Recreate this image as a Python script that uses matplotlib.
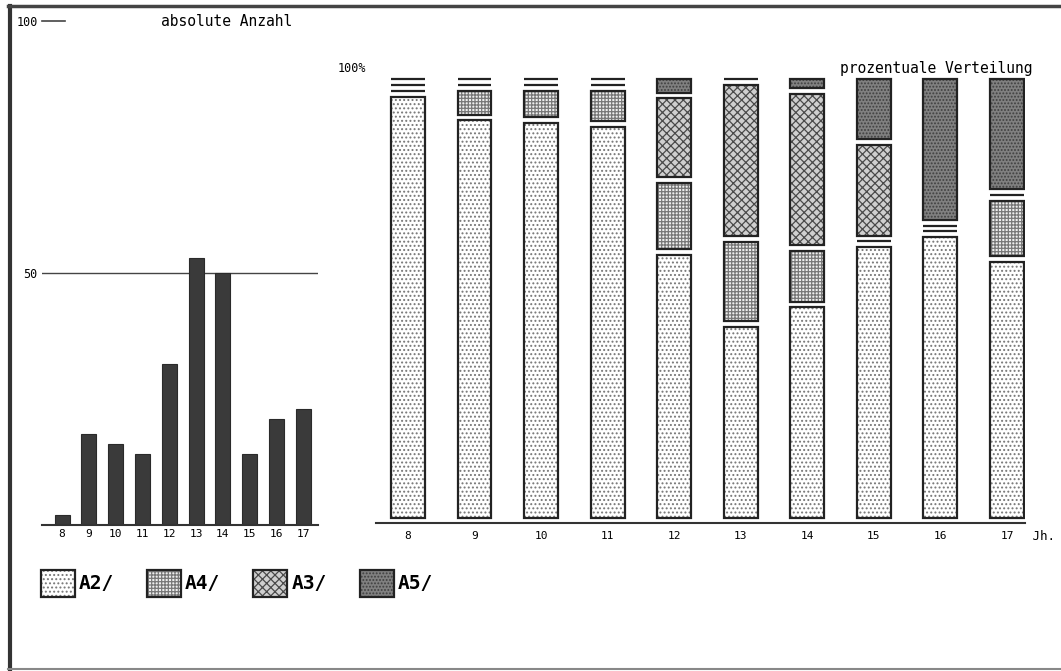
import numpy as np
import matplotlib.pyplot as plt
from matplotlib.lines import Line2D

plt.rcParams['font.family'] = ['DejaVu Sans Mono', 'DejaVu Sans']
plt.rcParams['hatch.linewidth'] = 0.9

# Daten: Anzahl je Jahrhundert und Typ
jahrhundert = ['8', '9', '10', '11', '12', '13', '14', '15', '16', '17']
a2 = [2, 17, 15, 13, 20, 24, 25, 9, 14, 14]
a4 = [0, 1, 1, 1, 5, 10, 6, 0, 0, 3]
a3 = [0, 0, 0, 0, 6, 19, 18, 3, 0, 0]
a5 = [0, 0, 0, 0, 1, 0, 1, 2, 7, 6]
typen = ['A2/', 'A4/', 'A3/', 'A5/']

serien = [np.array(a2), np.array(a4), np.array(a3), np.array(a5)]
gesamt = sum(serien)
x = np.arange(len(jahrhundert))

# Stil je Typ: Flaeche, Schraffur, Schraffurfarbe
stile = [('white', '....', '#777777'),
         ('#eeeeee', '+++++', '#777777'),
         ('#cfcfcf', 'xxxx', '#4a4a4a'),
         ('#808080', '.....', '#3f3f3f')]

fig = plt.figure(figsize=(10.61, 6.71), dpi=100)
W, H = 1061, 671

# --- links: absolute Anzahl ---
ax1 = fig.add_axes([42 / W, 146 / H, 276 / W, 504 / H])
ax1.bar(x, gesamt, width=0.56, color='#3a3a3a', edgecolor='#2a2a2a', linewidth=0.8)
ax1.set_xlim(-0.75, 9.55)
ax1.set_ylim(0, 100)
ax1.axhline(50, color='#444444', lw=1, zorder=0)
ax1.axhline(100, xmin=0, xmax=23 / 276, color='#444444', lw=1.2, clip_on=False)
for s in ['top', 'right', 'left']:
    ax1.spines[s].set_visible(False)
ax1.spines['bottom'].set_linewidth(1.5)
ax1.spines['bottom'].set_color('#333333')
ax1.set_xticks(x)
ax1.set_xticklabels(jahrhundert, fontsize=8)
ax1.set_yticks([50, 100])
ax1.set_yticklabels(['50', '100'], fontsize=8.5)
ax1.tick_params(length=0, pad=3)
ax1.text(0.43, 100, 'absolute Anzahl', transform=ax1.get_yaxis_transform(),
         fontsize=10.5, va='center', ha='left')

# --- rechts: prozentuale Verteilung ---
ax2 = fig.add_axes([376 / W, 148 / H, 649 / W, 463 / H])
ax2.set_xlim(-0.48, 9.27)
ax2.set_ylim(0, 110)
luecke = 1.4
unten = np.full(len(x), 1.2)
handles = []
for werte, (fc, hatch, hc) in zip(serien, stile):
    pct = 100.0 * werte / gesamt
    b1 = ax2.bar(x, pct, bottom=unten, width=0.51, color=fc, hatch=hatch,
                 edgecolor=hc, linewidth=0)
    b2 = ax2.bar(x, pct, bottom=unten, width=0.51, fill=False,
                 edgecolor='#222222', linewidth=1.6)
    handles.append((b1[0], b2[0]))
    unten = unten + pct + luecke

for s in ['top', 'right', 'left']:
    ax2.spines[s].set_visible(False)
ax2.spines['bottom'].set_linewidth(1.5)
ax2.spines['bottom'].set_color('#333333')
ax2.set_yticks([])
ax2.set_xticks(x)
ax2.set_xticklabels(jahrhundert, fontsize=8)
ax2.tick_params(length=0, pad=6)
ax2.text(1.0, -0.03, ' Jh.', transform=ax2.transAxes, fontsize=9, va='center', ha='left')
ax2.text(-0.059, 108, '100%', transform=ax2.get_yaxis_transform(),
         fontsize=8.5, va='center', ha='left')
ax2.text(0.715, 108, 'prozentuale Verteilung', transform=ax2.get_yaxis_transform(),
         fontsize=10.5, va='center', ha='left')

# --- Legende ---
fig.legend(handles, typen, loc='center left', bbox_to_anchor=(41 / W, 0.131),
           ncol=4, frameon=False, borderpad=0, borderaxespad=0,
           handlelength=1.75, handleheight=1.75, handletextpad=0.2,
           columnspacing=1.7, prop={'family': 'DejaVu Sans Mono', 'weight': 'bold', 'size': 14})

# Rahmen
fig.add_artist(Line2D([9.5 / W, 9.5 / W], [2 / H, 1 - 6 / H], transform=fig.transFigure,
                      color='#333333', lw=3))
fig.add_artist(Line2D([8 / W, 1], [1 - 6 / H, 1 - 6 / H], transform=fig.transFigure,
                      color='#444444', lw=2.5))
fig.add_artist(Line2D([8 / W, 1], [2 / H, 2 / H], transform=fig.transFigure,
                      color='#888888', lw=1.5))

fig.savefig('out.png', dpi=100)
